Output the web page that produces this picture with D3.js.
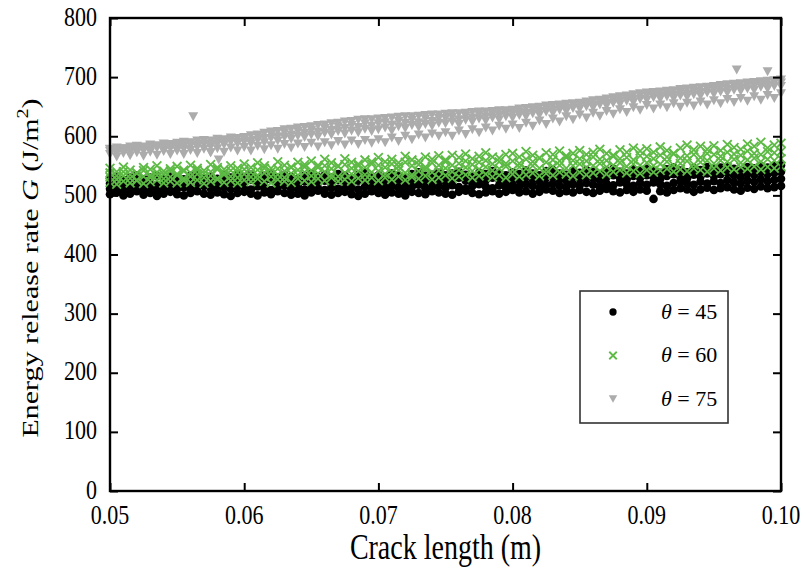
<!DOCTYPE html>
<html><head><meta charset="utf-8">
<script src="https://cdn.jsdelivr.net/npm/d3@7/dist/d3.min.js"></script>
<style>
body{margin:0;background:#fff}
svg{display:block}
text{font-family:"Liberation Serif","Times New Roman",serif;fill:#000}
</style>
</head><body>
<svg id="c" width="804" height="569"></svg>
<script>
// ---- data ----
const crackLength = [
0.0500,0.0505,0.0510,0.0515,0.0520,0.0525,0.0530,0.0535,0.0540,0.0545,
0.0550,0.0555,0.0560,0.0565,0.0570,0.0575,0.0580,0.0585,0.0590,0.0595,
0.0600,0.0605,0.0610,0.0615,0.0620,0.0625,0.0630,0.0635,0.0640,0.0645,
0.0650,0.0655,0.0660,0.0665,0.0670,0.0675,0.0680,0.0685,0.0690,0.0695,
0.0700,0.0705,0.0710,0.0715,0.0720,0.0725,0.0730,0.0735,0.0740,0.0745,
0.0750,0.0755,0.0760,0.0765,0.0770,0.0775,0.0780,0.0785,0.0790,0.0795,
0.0800,0.0805,0.0810,0.0815,0.0820,0.0825,0.0830,0.0835,0.0840,0.0845,
0.0850,0.0855,0.0860,0.0865,0.0870,0.0875,0.0880,0.0885,0.0890,0.0895,
0.0900,0.0905,0.0910,0.0915,0.0920,0.0925,0.0930,0.0935,0.0940,0.0945,
0.0950,0.0955,0.0960,0.0965,0.0970,0.0975,0.0980,0.0985,0.0990,0.0995,
0.1000];

// theta = 45 (four overlapping runs)
const g45a = [
502,505,500,503,507,501,504,499,503,506,
502,500,504,507,503,501,505,502,499,504,
506,503,500,505,502,507,504,501,503,500,
505,508,503,501,504,506,502,499,503,507,
504,501,505,503,500,506,504,502,507,505,
503,501,506,508,504,502,505,507,503,506,
509,505,507,503,506,510,508,504,507,505,
509,506,504,508,511,507,505,509,506,510,
508,494,507,505,509,512,510,506,510,513,
509,512,514,510,508,513,511,515,512,514,
516];
const g45b = [
511,514,509,512,516,510,513,508,512,515,
511,514,510,513,516,512,509,514,511,515,
513,510,515,512,509,514,517,511,513,510,
515,512,509,514,511,516,513,510,515,512,
514,511,516,513,510,515,518,512,514,516,
513,517,514,511,516,519,515,512,517,514,
518,515,519,516,513,518,520,516,514,519,
517,521,518,515,520,517,522,519,516,521,
518,522,519,516,521,524,520,518,523,520,
524,521,526,522,520,525,523,527,524,526,
528];
const g45c = [
520,523,518,522,525,519,522,517,521,524,
521,518,523,526,520,523,519,524,521,525,
522,526,520,524,527,521,525,522,519,524,
527,522,525,521,526,523,520,525,528,522,
525,522,527,524,520,526,529,523,525,528,
524,527,530,525,522,528,526,530,527,524,
529,526,531,527,524,530,532,527,525,531,
528,532,529,526,531,534,530,527,533,530,
534,531,528,533,536,532,529,535,532,537,
533,536,538,534,531,537,535,539,536,538,
540];
const g45d = [
529,532,526,531,534,527,530,533,528,532,
530,527,533,536,529,532,528,534,530,535,
531,535,529,533,537,530,534,531,528,533,
536,531,534,530,536,533,529,535,538,532,
534,531,537,533,529,536,539,533,535,538,
534,537,540,535,532,538,536,541,537,534,
539,536,542,537,534,541,543,537,535,542,
538,543,540,536,542,545,540,537,544,541,
545,541,538,544,547,542,539,546,543,548,
544,547,549,545,542,548,546,550,547,549,
551];

// theta = 60
const g60a = [
522,519,524,521,525,520,523,526,521,524,
521,525,522,526,520,524,527,522,525,521,
526,523,528,524,521,527,524,522,528,525,
523,528,525,530,524,527,524,529,526,530,
525,530,527,532,526,531,528,533,527,530,
534,529,532,535,530,533,536,531,534,530,
536,532,535,538,533,537,534,539,536,533,
539,535,538,541,536,540,543,538,541,537,
543,539,542,545,540,544,541,546,543,540,
546,542,547,544,548,545,549,544,548,546,
549];
const g60b = [
531,527,533,529,526,532,530,534,528,531,
534,529,532,536,530,533,529,535,532,530,
536,531,534,538,532,535,530,537,534,539,
533,537,540,535,532,538,536,541,535,539,
541,536,540,543,538,535,541,544,539,542,
546,540,543,547,541,544,548,542,545,549,
543,548,545,550,546,543,549,551,546,550,
553,547,550,554,548,551,555,549,553,551,
555,550,553,557,551,554,558,552,556,559,
554,559,557,561,555,560,563,557,561,559,
562];
const g60c = [
538,533,540,535,537,542,534,539,536,541,
536,541,538,543,537,540,544,538,542,539,
544,539,543,546,540,545,541,547,543,548,
542,547,550,545,549,552,546,550,547,553,
551,547,553,549,556,550,552,548,555,551,
557,551,554,558,552,556,559,553,557,554,
558,554,561,557,563,556,560,558,564,559,
562,558,565,561,559,566,562,564,560,567,
566,562,568,565,570,563,567,569,564,571,
569,566,573,570,568,575,571,569,574,572,
574];
const g60d = [
546,540,548,543,538,547,544,550,541,545,
549,543,551,546,542,552,547,544,550,546,
553,547,555,550,546,557,551,548,556,552,
558,551,561,555,550,562,556,553,560,557,
564,557,561,555,566,560,558,565,561,567,
560,568,564,570,562,566,572,565,563,569,
571,565,574,568,563,572,569,575,567,571,
576,569,573,578,571,568,577,573,580,575,
579,573,582,576,571,580,585,577,583,578,
584,576,586,581,578,587,583,590,580,585,
588];

// theta = 75
const g75a = [
578,580,579,582,583,582,585,584,587,586,
588,590,589,592,593,592,595,594,597,596,
598,601,602,605,607,608,611,612,614,615,
616,618,619,621,622,624,625,627,628,628,
629,630,631,632,633,633,634,635,636,636,
637,638,638,639,640,641,641,642,643,643,
644,646,647,648,649,651,652,653,654,655,
656,658,660,661,663,665,667,668,670,672,
673,674,675,676,677,679,680,681,682,683,
684,686,687,688,689,690,691,692,693,694,
695];
const g75b = [
574,571,576,573,578,575,577,580,576,579,
581,578,584,581,586,582,587,585,590,587,
590,587,593,589,596,592,598,595,600,598,
602,599,605,602,608,604,609,606,612,608,
611,614,609,616,613,618,615,620,617,622,
621,624,620,627,624,629,626,631,628,633,
631,635,633,638,636,641,639,644,642,647,
646,650,648,653,651,656,654,659,657,662,
661,665,663,667,664,668,666,670,668,673,
671,675,673,678,676,680,678,683,680,684,
684];
const g75c = [
569,565,571,567,572,566,573,568,574,569,
575,569,576,571,578,572,579,573,580,575,
581,575,583,577,584,578,586,580,587,581,
588,582,589,584,591,585,592,586,593,588,
594,589,597,591,600,594,602,597,604,600,
606,600,609,603,611,606,614,609,617,612,
619,613,622,617,626,620,629,624,633,628,
636,631,639,634,642,637,645,640,648,644,
652,646,653,648,655,649,656,651,658,653,
660,655,662,657,664,659,667,661,669,664,
672];
const g75d = [
577,574,579,576,582,577,583,581,583,581,
585,583,588,585,591,586,592,588,594,590,
595,592,599,596,603,599,606,602,608,605,
610,607,613,610,616,613,618,615,621,617,
621,623,619,625,622,627,623,629,625,630,
630,632,628,634,631,636,633,637,635,639,
638,641,639,644,642,647,645,649,647,652,
652,655,653,658,656,661,660,664,663,668,
668,670,668,672,670,674,672,676,674,679,
678,681,679,684,682,686,684,688,686,690,
690];
const outlierX75 = [0.0562, 0.0575, 0.0581, 0.0967, 0.0990];
const outlierG75 = [633, 572, 560, 712, 709];

const xTicks = [0.05, 0.06, 0.07, 0.08, 0.09, 0.10];
const xTickLabels = ["0.05", "0.06", "0.07", "0.08", "0.09", "0.10"];
const yTicks = [0, 100, 200, 300, 400, 500, 600, 700, 800];
const legendLabels = ["45", "60", "75"];

// ---- drawing ----
const svg = d3.select("#c");
const L = 110, R = 781, T = 18, B = 491;
const x = d3.scaleLinear().domain([0.05, 0.10]).range([L, R]);
const y = d3.scaleLinear().domain([0, 800]).range([B, T]);
const S = 1.25; // vertical stretch of the original lettering

const cBlack = "#000000", cGreen = "#5dba45", cGray = "#acacac";

function dot(g, cx, cy, k = 1) {
  g.append("circle").attr("cx", cx).attr("cy", cy).attr("r", 4.3 * k).attr("fill", cBlack);
}
function cross(g, cx, cy, k = 1) {
  const h = 4.4 * k;
  g.append("path").attr("d", `M${cx-h},${cy-h}L${cx+h},${cy+h}M${cx-h},${cy+h}L${cx+h},${cy-h}`)
    .attr("stroke", cGreen).attr("stroke-width", 1.8).attr("fill", "none");
}
function tri(g, cx, cy, k = 1) {
  const w = 5 * k, h = 4.5 * k;
  g.append("path").attr("d", `M${cx-w},${cy-h}L${cx+w},${cy-h}L${cx},${cy+h}Z`).attr("fill", cGray);
}

const plot = svg.append("g");
[g45a, g45b, g45c, g45d].forEach(run => run.forEach((v, i) => dot(plot, x(crackLength[i]), y(v))));
[g60a, g60b, g60c, g60d].forEach(run => run.forEach((v, i) => cross(plot, x(crackLength[i]), y(v))));
[g75c, g75b, g75d, g75a].forEach(run => run.forEach((v, i) => tri(plot, x(crackLength[i]), y(v))));
outlierX75.forEach((xv, i) => tri(plot, x(xv), y(outlierG75[i])));

// axes (inward ticks on all four sides)
function styleAxis(g) {
  g.select(".domain").remove();
  g.selectAll(".tick line").attr("stroke", "#000").attr("stroke-width", 2);
  g.selectAll(".tick text").remove();
}
svg.append("g").attr("transform", `translate(0,${B})`).call(d3.axisBottom(x).tickValues(xTicks).tickSize(-8)).call(styleAxis);
svg.append("g").attr("transform", `translate(0,${T})`).call(d3.axisTop(x).tickValues(xTicks).tickSize(-8)).call(styleAxis);
svg.append("g").attr("transform", `translate(${L},0)`).call(d3.axisLeft(y).tickValues(yTicks).tickSize(-8)).call(styleAxis);
svg.append("g").attr("transform", `translate(${R},0)`).call(d3.axisRight(y).tickValues(yTicks).tickSize(-8)).call(styleAxis);

svg.append("rect").attr("x", L).attr("y", T).attr("width", R - L).attr("height", B - T)
  .attr("fill", "none").attr("stroke", "#000").attr("stroke-width", 2.4);

// tick labels
xTicks.forEach((v, i) => {
  svg.append("text").attr("transform", `translate(${x(v)},${B + 33}) scale(1,${S})`)
    .attr("text-anchor", "middle").attr("font-size", 22).text(xTickLabels[i]);
});
yTicks.forEach(v => {
  svg.append("text").attr("transform", `translate(${L - 13},${y(v) + 7.5}) scale(1,${S})`)
    .attr("text-anchor", "end").attr("font-size", 22).text(v);
});

// axis titles
svg.append("text").attr("transform", `translate(${(L + R) / 2},${559}) scale(1,${S})`)
  .attr("text-anchor", "middle").attr("font-size", 28).text("Crack length (m)");

const yt = svg.append("text").attr("transform", `translate(38,268) scale(1,${S}) rotate(-90)`)
  .attr("text-anchor", "middle").attr("font-size", 24);
yt.append("tspan").text("Energy release rate ");
yt.append("tspan").attr("font-style", "italic").text("G");
yt.append("tspan").text(" (J/m");
yt.append("tspan").attr("font-size", 16).attr("dy", -10).text("2");
yt.append("tspan").attr("dy", 10).text(")");

// legend
const lg = svg.append("g");
lg.append("rect").attr("x", 580).attr("y", 291).attr("width", 148).attr("height", 132)
  .attr("fill", "#fff").attr("stroke", "#333").attr("stroke-width", 1.6);
const markers = [dot, cross, tri];
legendLabels.forEach((lab, i) => {
  const cy = 312 + i * 43.5;
  markers[i](lg, 613, cy, 0.85);
  const t = lg.append("text").attr("x", 661).attr("y", cy + 6.5).attr("font-size", 22);
  t.append("tspan").attr("font-style", "italic").text("\u03B8");
  t.append("tspan").text(" = " + lab);
});
</script>
</body></html>
